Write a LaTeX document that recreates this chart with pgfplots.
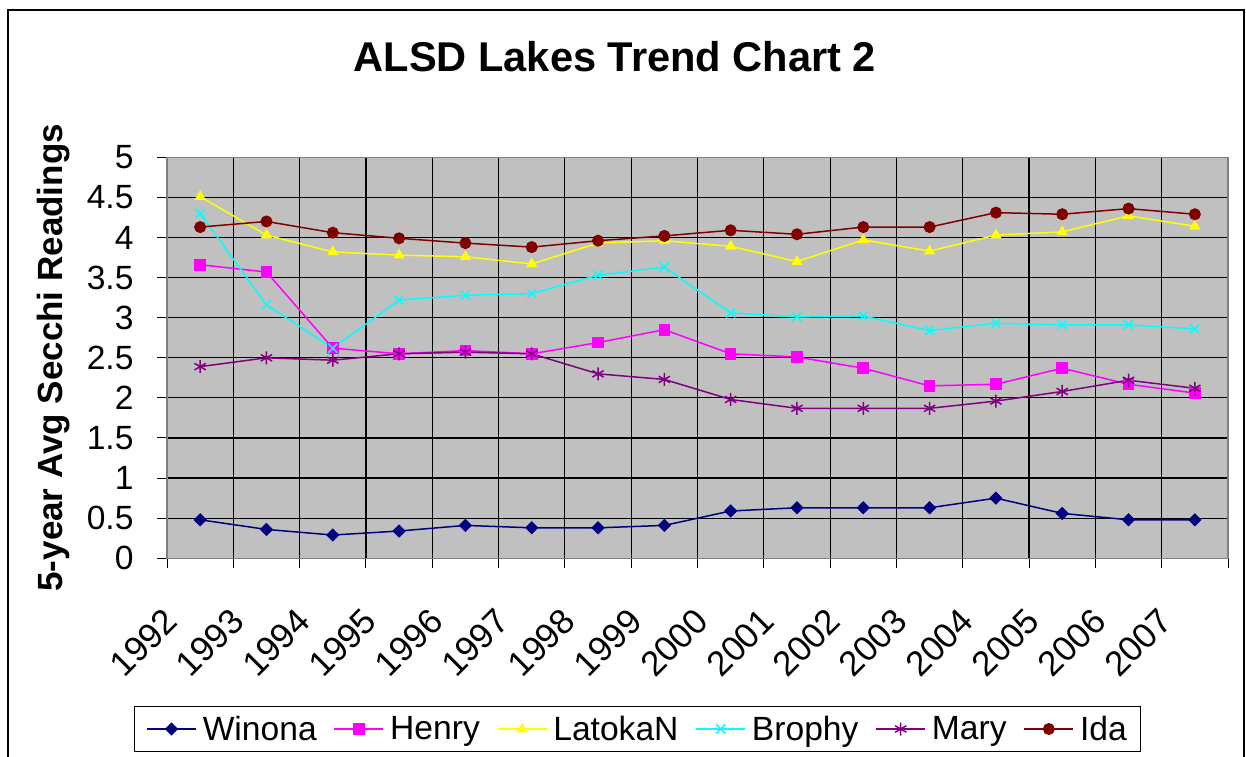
\documentclass[border=0pt]{standalone}
\usepackage{fontspec}
\setmainfont{Liberation Sans}
\usepackage{pgfplots}
\pgfplotsset{compat=1.18}
\definecolor{cWinona}{HTML}{000080}
\definecolor{cHenry}{HTML}{FF00FF}
\definecolor{cLatoka}{HTML}{FFFF00}
\definecolor{cBrophy}{HTML}{00FFFF}
\definecolor{cMary}{HTML}{800080}
\definecolor{cIda}{HTML}{800000}
\definecolor{plotbg}{HTML}{C0C0C0}
\definecolor{axgray}{HTML}{808080}
\begin{document}
\begin{tikzpicture}[x=1bp,y=1bp]
\begin{axis}[
  at={(167bp,198.7bp)}, anchor=south west,
  scale only axis, width=1061bp, height=401bp,
  xmin=-0.5, xmax=15.5, ymin=0, ymax=5,
  axis background/.style={fill=plotbg},
  axis line style={draw=axgray, line width=1.2bp},
  tick pos=left, tick align=outside,
  major tick length=10bp, minor tick length=10bp,
  every tick/.style={black, line width=1bp},
  xtick={-0.45,0.55,1.55,2.55,3.55,4.55,5.55,6.55,7.55,8.55,9.55,10.55,11.55,12.55,13.55,14.55},
  xticklabels={1992,1993,1994,1995,1996,1997,1998,1999,2000,2001,2002,2003,2004,2005,2006,2007},
  xtick style={/pgfplots/major tick length=0pt},
  minor xtick={-0.5,0.5,...,15.5},
  xticklabel style={xshift=-8bp, yshift=-33bp, rotate=45, anchor=north east, font=\fontsize{35bp}{42bp}\selectfont},
  ytick={0,0.5,...,5},
  yticklabel style={xshift=-20bp},
  /pgf/number format/assume math mode=true,
  tick label style={font=\fontsize{33.6bp}{40bp}\selectfont},
  xmajorgrids=false, xminorgrids=true, ymajorgrids=true,
  grid style={black, line width=1.2bp},
  minor grid style={black, line width=1.2bp},
  ylabel={5-year Avg Secchi Readings},
  every axis y label/.style={at={(axis description cs:-0.1065,0.5)}, rotate=90, anchor=center, font=\bfseries\fontsize{35bp}{42bp}\selectfont},
  title={ALSD Lakes Trend Chart 2},
  every axis title/.style={at={(axis description cs:0.4221,1.2135)}, anchor=base, font=\bfseries\fontsize{41.6bp}{49bp}\selectfont},
  legend columns=6,
  legend image code/.code={\draw[mark repeat=2,mark phase=2,#1] plot coordinates {(0bp,0bp) (24.5bp,0bp) (49bp,0bp)};},
  legend style={at={(axis description cs:0.4435,-0.4257)}, anchor=center,
     draw=black, line width=1bp, fill=white,
     font=\fontsize{33.6bp}{40bp}\selectfont,
     inner xsep=12bp, inner ysep=8bp,
     nodes={inner sep=2bp},
     /tikz/every odd column/.append style={column sep=4bp},
     /tikz/every even column/.append style={column sep=15bp}},
  every axis plot/.append style={line width=1.5bp},
]
\addplot[color=cWinona, mark=square*, mark size=4.2bp, mark options={rotate=45, fill=cWinona, line width=1bp}]
 coordinates {(0,0.48)(1,0.36)(2,0.29)(3,0.34)(4,0.41)(5,0.38)(6,0.38)(7,0.41)(8,0.59)(9,0.63)(10,0.63)(11,0.63)(12,0.75)(13,0.56)(14,0.48)(15,0.48)};
\addlegendentry{Winona}
\addplot[color=cHenry, mark=square*, mark size=5.3bp, mark options={fill=cHenry, line width=1bp}]
 coordinates {(0,3.66)(1,3.57)(2,2.62)(3,2.55)(4,2.59)(5,2.55)(6,2.69)(7,2.85)(8,2.55)(9,2.51)(10,2.37)(11,2.15)(12,2.17)(13,2.37)(14,2.17)(15,2.06)};
\addlegendentry{Henry}
\addplot[color=cLatoka, mark=triangle*, mark size=5.5bp, mark options={fill=cLatoka, line width=1bp}]
 coordinates {(0,4.51)(1,4.03)(2,3.82)(3,3.78)(4,3.76)(5,3.67)(6,3.93)(7,3.96)(8,3.89)(9,3.70)(10,3.97)(11,3.83)(12,4.03)(13,4.07)(14,4.27)(15,4.14)};
\addlegendentry{LatokaN}
\addplot[color=cBrophy, mark=x, mark size=6.5bp, mark options={line width=1.5bp}]
 coordinates {(0,4.30)(1,3.16)(2,2.62)(3,3.22)(4,3.28)(5,3.30)(6,3.53)(7,3.63)(8,3.06)(9,3.01)(10,3.02)(11,2.84)(12,2.93)(13,2.91)(14,2.91)(15,2.86)};
\addlegendentry{Brophy}
\addplot[color=cMary, mark=asterisk, mark size=6.5bp, mark options={line width=1.5bp}]
 coordinates {(0,2.39)(1,2.50)(2,2.47)(3,2.55)(4,2.57)(5,2.55)(6,2.30)(7,2.23)(8,1.98)(9,1.87)(10,1.87)(11,1.87)(12,1.96)(13,2.08)(14,2.22)(15,2.12)};
\addlegendentry{Mary}
\addplot[color=cIda, mark=*, mark size=5.5bp, mark options={fill=cIda, line width=1bp}]
 coordinates {(0,4.13)(1,4.20)(2,4.06)(3,3.99)(4,3.93)(5,3.88)(6,3.96)(7,4.02)(8,4.09)(9,4.04)(10,4.13)(11,4.13)(12,4.31)(13,4.29)(14,4.36)(15,4.29)};
\addlegendentry{Ida}
\end{axis}
\draw[black, line width=1.2bp] (8,-5) -- (8,747) -- (1244,747) -- (1244,-5);
\pgfresetboundingbox
\path[use as bounding box] (0,0) rectangle (1246,757);
\end{tikzpicture}
\end{document}
